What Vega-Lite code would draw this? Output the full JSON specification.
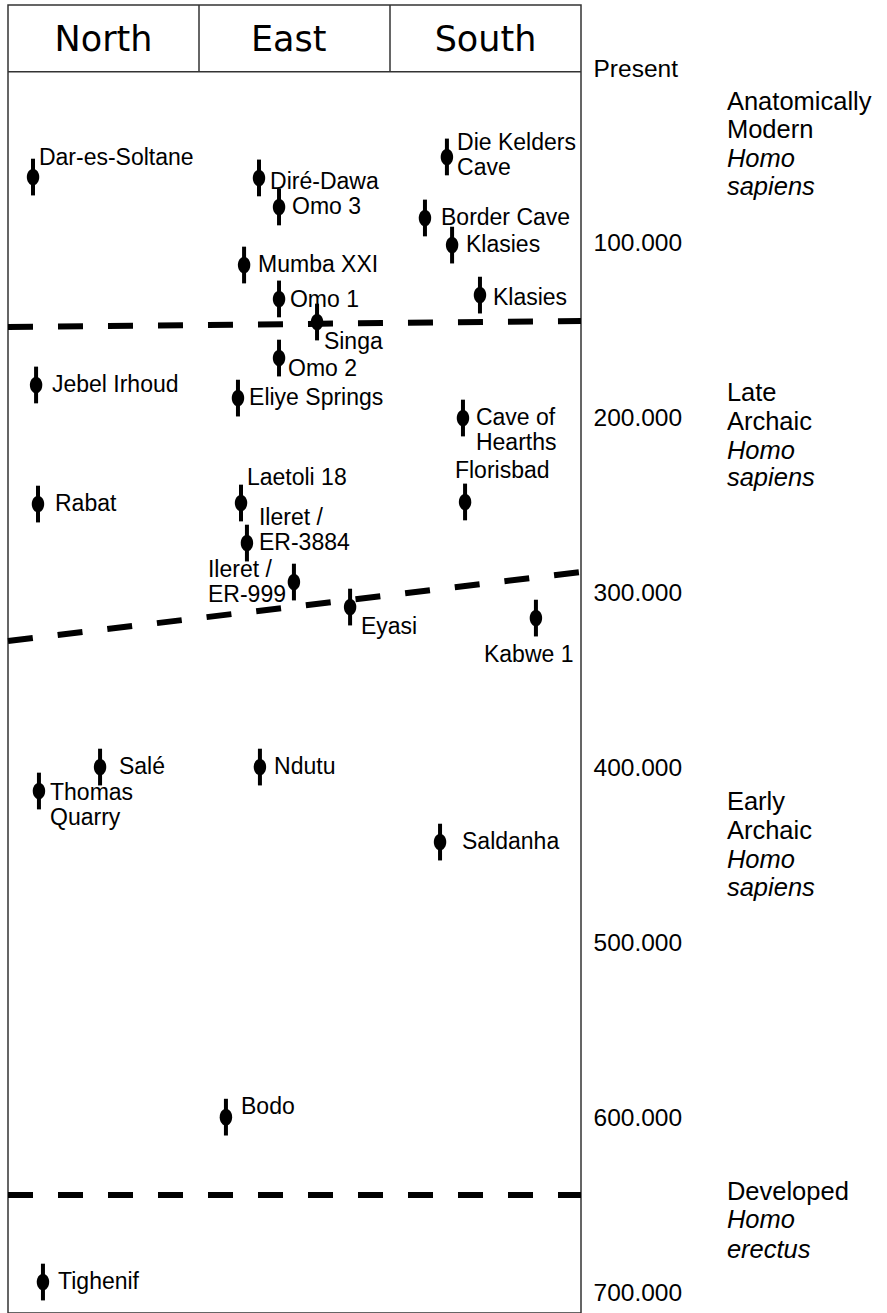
{
  "$schema": "https://vega.github.io/schema/vega-lite/v6.json",
  "width": 573,
  "height": 1308,
  "autosize": {"type": "none"},
  "padding": {"left": 8, "top": 5, "right": 306, "bottom": 0},
  "background": "white",
  "config": {
    "view": {"stroke": "#333", "strokeWidth": 1.5},
    "font": "Liberation Sans"
  },
  "datasets": {
    "frame": [
      {"part": "header bottom", "x": 0, "x2": 3, "y": 1600, "y2": 1600},
      {"part": "divider 1", "x": 1, "x2": 1, "y": -36600, "y2": 1600},
      {"part": "divider 2", "x": 2, "x2": 2, "y": -36600, "y2": 1600}
    ],
    "bounds": [
      {"boundary": "AMHS / Late Archaic", "x": 0, "x2": 3, "y": 147550, "y2": 144120},
      {"boundary": "Late / Early Archaic", "x": 0, "x2": 3, "y": 327130, "y2": 287670},
      {"boundary": "Early Archaic / H. erectus", "x": 0, "x2": 3, "y": 643960, "y2": 643960}
    ],
    "sites": [
      {"label": "Dar-es-Soltane", "x": 0.131, "age": 61800, "lo": 51300, "hi": 72300, "lx": 0.162, "ly": 50900},
      {"label": "Jebel Irhoud", "x": 0.147, "age": 180700, "lo": 170200, "hi": 191200, "lx": 0.23, "ly": 180700},
      {"label": "Rabat", "x": 0.157, "age": 248800, "lo": 238300, "hi": 259300, "lx": 0.246, "ly": 248800},
      {"label": "Salé", "x": 0.482, "age": 399200, "lo": 388700, "hi": 409700, "lx": 0.581, "ly": 399200},
      {"label": "Thomas\nQuarry", "x": 0.162, "age": 412900, "lo": 402400, "hi": 423400, "lx": 0.22, "ly": 414050},
      {"label": "Tighenif", "x": 0.183, "age": 693700, "lo": 683200, "hi": 704200, "lx": 0.262, "ly": 693700},
      {"label": "Diré-Dawa", "x": 1.314, "age": 62300, "lo": 51800, "hi": 72800, "lx": 1.372, "ly": 64600},
      {"label": "Omo 3", "x": 1.419, "age": 78900, "lo": 68400, "hi": 89400, "lx": 1.487, "ly": 78900},
      {"label": "Mumba XXI", "x": 1.236, "age": 112100, "lo": 101600, "hi": 122600, "lx": 1.309, "ly": 112100},
      {"label": "Omo 1", "x": 1.419, "age": 131500, "lo": 121000, "hi": 142000, "lx": 1.476, "ly": 132100},
      {"label": "Singa", "x": 1.618, "age": 144700, "lo": 134200, "hi": 155200, "lx": 1.654, "ly": 156100},
      {"label": "Omo 2", "x": 1.419, "age": 165300, "lo": 154800, "hi": 175800, "lx": 1.466, "ly": 171600},
      {"label": "Eliye Springs", "x": 1.204, "age": 188200, "lo": 177700, "hi": 198700, "lx": 1.262, "ly": 188200},
      {"label": "Laetoli 18", "x": 1.22, "age": 248200, "lo": 237700, "hi": 258700, "lx": 1.251, "ly": 233900},
      {"label": "Ileret /\nER-3884", "x": 1.251, "age": 271100, "lo": 260600, "hi": 281600, "lx": 1.314, "ly": 257050},
      {"label": "Ileret /\nER-999", "x": 1.497, "age": 293400, "lo": 282900, "hi": 303900, "lx": 1.047, "ly": 286250},
      {"label": "Ndutu", "x": 1.319, "age": 399200, "lo": 388700, "hi": 409700, "lx": 1.393, "ly": 399200},
      {"label": "Eyasi", "x": 1.791, "age": 307700, "lo": 297200, "hi": 318200, "lx": 1.848, "ly": 319100},
      {"label": "Bodo", "x": 1.141, "age": 599400, "lo": 588900, "hi": 609900, "lx": 1.22, "ly": 593600},
      {"label": "Die Kelders\nCave", "x": 2.298, "age": 50300, "lo": 39800, "hi": 60800, "lx": 2.351, "ly": 42350},
      {"label": "Border Cave", "x": 2.183, "age": 85200, "lo": 74700, "hi": 95700, "lx": 2.267, "ly": 85200},
      {"label": "Klasies", "x": 2.325, "age": 100700, "lo": 90200, "hi": 111200, "lx": 2.398, "ly": 100700},
      {"label": "Klasies", "x": 2.471, "age": 129300, "lo": 118800, "hi": 139800, "lx": 2.539, "ly": 131000},
      {"label": "Cave of\nHearths", "x": 2.382, "age": 199600, "lo": 189100, "hi": 210100, "lx": 2.45, "ly": 199850},
      {"label": "Florisbad", "x": 2.393, "age": 247600, "lo": 237100, "hi": 258100, "lx": 2.34, "ly": 229900},
      {"label": "Kabwe 1", "x": 2.764, "age": 314000, "lo": 303500, "hi": 324500, "lx": 2.492, "ly": 335100},
      {"label": "Saldanha", "x": 2.262, "age": 442100, "lo": 431600, "hi": 452600, "lx": 2.377, "ly": 442100}
    ],
    "regions": [
      {"region": "North", "x": 0.5, "y": -16600},
      {"region": "East", "x": 1.47, "y": -16600},
      {"region": "South", "x": 2.5, "y": -16600}
    ],
    "groups": [
      {"text": "Anatomically", "y": 18700, "italic": false},
      {"text": "Modern", "y": 34900, "italic": false},
      {"text": "Homo", "y": 51500, "italic": true},
      {"text": "sapiens", "y": 67500, "italic": true},
      {"text": "Late", "y": 185100, "italic": false},
      {"text": "Archaic", "y": 201700, "italic": false},
      {"text": "Homo", "y": 218300, "italic": true},
      {"text": "sapiens", "y": 234100, "italic": true},
      {"text": "Early", "y": 419000, "italic": false},
      {"text": "Archaic", "y": 435600, "italic": false},
      {"text": "Homo", "y": 452400, "italic": true},
      {"text": "sapiens", "y": 468600, "italic": true},
      {"text": "Developed", "y": 642100, "italic": false},
      {"text": "Homo", "y": 658300, "italic": true},
      {"text": "erectus", "y": 675400, "italic": true}
    ]
  },
  "layer": [
    {
      "data": {"name": "sites"},
      "mark": {"type": "rule", "color": "black", "strokeWidth": 4},
      "encoding": {
        "x": {"field": "x", "type": "quantitative", "scale": {"domain": [0, 3], "nice": false, "zero": false}, "axis": null},
        "y": {
          "field": "lo", "type": "quantitative",
          "scale": {"domain": [-36600, 711400], "reverse": true, "nice": false, "zero": false},
          "axis": {
            "orient": "right", "title": null, "grid": false, "ticks": false, "domain": false,
            "values": [0, 100000, 200000, 300000, 400000, 500000, 600000, 700000],
            "labelExpr": "datum.value === 0 ? 'Present' : format(datum.value / 1000, 'd') + '.000'",
            "labelFont": "Liberation Sans", "labelFontSize": 24.5, "labelColor": "black",
            "labelPadding": 12, "labelOverlap": false, "labelFlush": false, "labelBaseline": "middle",
            "encode": {"labels": {"update": {"dy": {"signal": "datum.value === 0 ? 4 : 0"}}}}
          }
        },
        "y2": {"field": "hi"}
      }
    },
    {
      "data": {"name": "sites"},
      "mark": {"type": "point", "shape": "M -0.75 0 A 0.75 1 0 1 0 0.75 0 A 0.75 1 0 1 0 -0.75 0 Z", "filled": true, "color": "black", "opacity": 1, "size": 275},
      "encoding": {
        "x": {"field": "x", "type": "quantitative"},
        "y": {"field": "age", "type": "quantitative"}
      }
    },
    {
      "data": {"name": "sites"},
      "mark": {"type": "text", "align": "left", "baseline": "middle", "font": "Liberation Sans", "fontSize": 23, "color": "black", "lineBreak": "\n", "lineHeight": 25},
      "encoding": {
        "x": {"field": "lx", "type": "quantitative"},
        "y": {"field": "ly", "type": "quantitative"},
        "text": {"field": "label"}
      }
    },
    {
      "data": {"name": "bounds"},
      "mark": {"type": "rule", "color": "black", "strokeWidth": 6, "strokeDash": [25, 25]},
      "encoding": {
        "x": {"field": "x", "type": "quantitative"},
        "x2": {"field": "x2"},
        "y": {"field": "y", "type": "quantitative"},
        "y2": {"field": "y2"}
      }
    },
    {
      "data": {"name": "frame"},
      "mark": {"type": "rule", "color": "#333", "strokeWidth": 1.5},
      "encoding": {
        "x": {"field": "x", "type": "quantitative"},
        "x2": {"field": "x2"},
        "y": {"field": "y", "type": "quantitative"},
        "y2": {"field": "y2"}
      }
    },
    {
      "data": {"name": "regions"},
      "mark": {"type": "text", "align": "center", "baseline": "middle", "font": "DejaVu Sans", "fontSize": 35, "color": "black"},
      "encoding": {
        "x": {"field": "x", "type": "quantitative"},
        "y": {"field": "y", "type": "quantitative"},
        "text": {"field": "region"}
      }
    },
    {
      "data": {"name": "groups"},
      "transform": [{"filter": "!datum.italic"}],
      "mark": {"type": "text", "align": "left", "baseline": "middle", "font": "Liberation Sans", "fontSize": 25.5, "color": "black"},
      "encoding": {
        "x": {"datum": 3.764, "type": "quantitative"},
        "y": {"field": "y", "type": "quantitative"},
        "text": {"field": "text"}
      }
    },
    {
      "data": {"name": "groups"},
      "transform": [{"filter": "datum.italic"}],
      "mark": {"type": "text", "align": "left", "baseline": "middle", "font": "Liberation Sans", "fontSize": 25.5, "fontStyle": "italic", "color": "black"},
      "encoding": {
        "x": {"datum": 3.764, "type": "quantitative"},
        "y": {"field": "y", "type": "quantitative"},
        "text": {"field": "text"}
      }
    }
  ]
}
